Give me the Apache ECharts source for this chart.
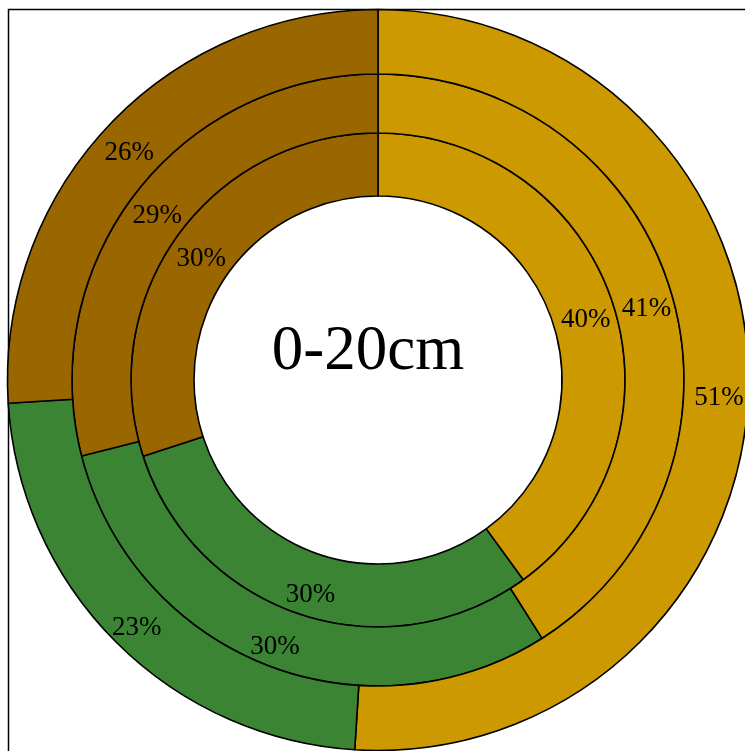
<!DOCTYPE html>
<html>
<head>
<meta charset="utf-8">
<script src="https://cdn.jsdelivr.net/npm/echarts@6/dist/echarts.min.js"></script>
<style>
  html, body { margin: 0; padding: 0; background: #fff; }
  #chart { width: 745px; height: 751px; }
</style>
</head>
<body>
<div id="chart"></div>
<script>
// Three fractions per ring, listed clockwise from 12 o'clock
const categories = ['A', 'B', 'C'];
const innerRing  = [40, 30, 30];
const middleRing = [41, 30, 29];
const outerRing  = [51, 23, 26];
const colors = ['#CC9900', '#3A8433', '#996600'];
const centerTitle = '0-20cm';

const chart = echarts.init(document.getElementById('chart'), null, { renderer: 'canvas' });

function ring(values, r0, r1) {
  return {
    type: 'pie',
    center: [378, 380],
    radius: [r0, r1],
    startAngle: 90,
    clockwise: true,
    avoidLabelOverlap: false,
    silent: true,
    itemStyle: { borderColor: '#000', borderWidth: 1.6 },
    label: {
      show: true,
      position: 'inside',
      // a thin spacer line above the value sets it slightly below the slice centre
      formatter: '{s| }\n{v|{c}%}',
      color: '#000',
      rich: {
        s: { fontSize: 10, lineHeight: 14 },
        v: { fontFamily: 'Liberation Serif', fontSize: 27, lineHeight: 30, color: '#000' }
      }
    },
    labelLine: { show: false },
    data: categories.map((c, i) => ({ name: c, value: values[i], itemStyle: { color: colors[i] } }))
  };
}

chart.setOption({
  animation: false,
  backgroundColor: '#fff',
  graphic: [
    {
      type: 'rect',
      z: -10,
      shape: { x: 8.5, y: 9.5, width: 900, height: 900 },
      style: { fill: 'none', stroke: '#000', lineWidth: 1.5 }
    },
    {
      type: 'text',
      z: 100,
      x: 368,
      y: 352,
      style: {
        text: centerTitle,
        fill: '#000',
        font: '63px "Liberation Serif"',
        textAlign: 'center',
        textVerticalAlign: 'middle'
      }
    }
  ],
  series: [
    ring(innerRing, 184, 247),
    ring(middleRing, 247, 306),
    ring(outerRing, 306, 370.5)
  ]
});
</script>
</body>
</html>
